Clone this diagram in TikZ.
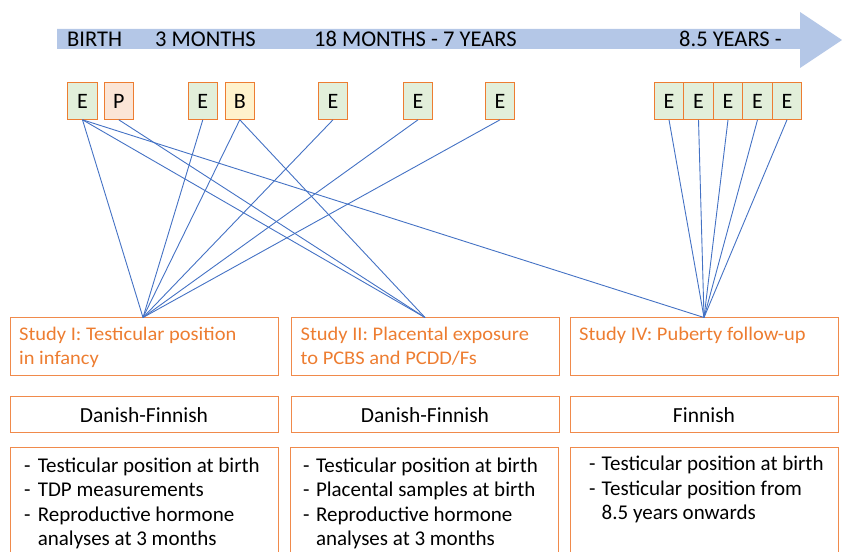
\documentclass[tikz,border=0pt]{standalone}
\usepackage{fontspec}
\setmainfont{Carlito}
\newfontfamily\hdrfont{Carlito}
\newfontfamily\stfont[FakeStretch=1.06]{Carlito}
\definecolor{arrowblue}{HTML}{B4C7E7}
\definecolor{linkblue}{HTML}{4472C4}
\definecolor{eorange}{HTML}{ED7D31}
\definecolor{borange}{HTML}{F08A4B}
\definecolor{egreen}{HTML}{E2EFDA}
\definecolor{ppeach}{HTML}{FBE5D6}
\definecolor{byellow}{HTML}{FFF2CC}
\tikzset{
  ebox/.style={draw=eorange, line width=1pt, fill=egreen, minimum width=29.5pt, minimum height=36.6pt, inner sep=0pt, font=\fontsize{22}{22}\selectfont},
  bigbox/.style={draw=borange, line width=1pt, minimum width=268pt, inner sep=0pt},
  link/.style={draw=linkblue, line width=0.9pt},
  hdr/.style={anchor=base west, inner sep=0pt, font=\hdrfont\fontsize{22.5}{22.5}\selectfont},
  sttext/.style={anchor=base west, inner sep=0pt, text=eorange, font=\stfont\fontsize{19.3}{19.3}\selectfont},
  bul/.style={anchor=base west, inner sep=0pt, font=\fontsize{21}{21}\selectfont},
  cohort/.style={bigbox, minimum height=36pt, font=\fontsize{21.5}{21.5}\selectfont}
}
\begin{document}
\begin{tikzpicture}[x=1pt,y=-1pt]
\useasboundingbox (0,0) rectangle (842,551);
% timeline arrow
\fill[arrowblue] (57,29) -- (800,29) -- (800,12) -- (842,40) -- (800,68) -- (800,49) -- (57,49) -- cycle;
\node[hdr] (h1) at (67,46.5) {BIRTH};
\node[hdr] (h2) at (155,46.5) {3 MONTHS};
\node[hdr] (h3) at (314,46.5) {18 MONTHS - 7 YEARS};
\node[hdr] (h4) at (679,46.5) {8.5 YEARS -};
% examination boxes
\node[ebox] (e1) at (82.5,101) {E};
\node[ebox, fill=ppeach] (p1) at (118.8,101) {P};
\node[ebox] (e2) at (202.8,101) {E};
\node[ebox, fill=byellow] (b1) at (239.8,101) {B};
\node[ebox] (e3) at (333,101) {E};
\node[ebox] (e4) at (418,101) {E};
\node[ebox] (e5) at (500,101) {E};
\node[ebox] (g1) at (669,101) {E};
\node[ebox] (g2) at (698.5,101) {E};
\node[ebox] (g3) at (728,101) {E};
\node[ebox] (g4) at (757.5,101) {E};
\node[ebox] (g5) at (787,101) {E};
% study boxes
\node[bigbox, minimum height=58pt] (s1) at (144,346.5) {};
\node[bigbox, minimum height=58pt] (s2) at (425,346.5) {};
\node[bigbox, minimum height=58pt] (s4) at (704,346.5) {};
\coordinate (a1) at (143,317.5);
\coordinate (a2) at (425,317.5);
\coordinate (a4) at (704,317.5);
\node[sttext] (t1a) at (19,340.7) {Study I: Testicular position};
\node[sttext] (t1b) at (19,364) {in infancy};
\node[sttext] (t2a) at (300.5,340.7) {Study II: Placental exposure};
\node[sttext] (t2b) at (300.5,364) {to PCBS and PCDD/Fs};
\node[sttext] (t4a) at (579,340.7) {Study IV: Puberty follow-up};
% connectors
\draw[link] (e1.south) -- (a1);
\draw[link] (e1.south) -- (a2);
\draw[link] (e1.south) -- (a4);
\draw[link] (p1.south) -- (a2);
\draw[link] (e2.south) -- (a1);
\draw[link] (b1.south) -- (a1);
\draw[link] (b1.south) -- (a2);
\draw[link] (e3.south) -- (a1);
\draw[link] (e4.south) -- (a1);
\draw[link] (e5.south) -- (a1);
\draw[link] (g1.south) -- (a4);
\draw[link] (g2.south) -- (a4);
\draw[link] (g3.south) -- (a4);
\draw[link] (g4.south) -- (a4);
\draw[link] (g5.south) -- (a4);
% cohort boxes
\node[cohort] (c1) at (144,414.7) {Danish-Finnish};
\node[cohort] (c2) at (425,414.7) {Danish-Finnish};
\node[cohort] (c4) at (704,414.7) {Finnish};
% detail boxes
\node[bigbox, minimum height=130pt, anchor=north] (l1) at (144,447.3) {};
\node[bigbox, minimum height=130pt, anchor=north] (l2) at (424.5,447.3) {};
\node[bigbox, minimum height=130pt, anchor=north] (l4) at (704,447.3) {};
% list 1
\node[bul] (d11) at (24,472.7) {-};
\node[bul] (x11) at (37.6,472.7) {Testicular position at birth};
\node[bul] (d12) at (24,496.9) {-};
\node[bul] (x12) at (37.6,496.9) {TDP measurements};
\node[bul] (d13) at (24,521.2) {-};
\node[bul] (x13) at (37.6,521.2) {Reproductive hormone};
\node[bul] (x14) at (37.6,545.4) {analyses at 3 months};
% list 2
\node[bul] (d21) at (303,472.7) {-};
\node[bul] (x21) at (315.8,472.7) {Testicular position at birth};
\node[bul] (d22) at (303,496.9) {-};
\node[bul] (x22) at (315.8,496.9) {Placental samples at birth};
\node[bul] (d23) at (303,521.2) {-};
\node[bul] (x23) at (315.8,521.2) {Reproductive hormone};
\node[bul] (x24) at (315.8,545.4) {analyses at 3 months};
% list 4
\node[bul] (d41) at (589,470.7) {-};
\node[bul] (x41) at (601.5,470.7) {Testicular position at birth};
\node[bul] (d42) at (589,495) {-};
\node[bul] (x42) at (601.5,495) {Testicular position from};
\node[bul] (x43) at (601.5,519.5) {8.5 years onwards};
\end{tikzpicture}
\end{document}
